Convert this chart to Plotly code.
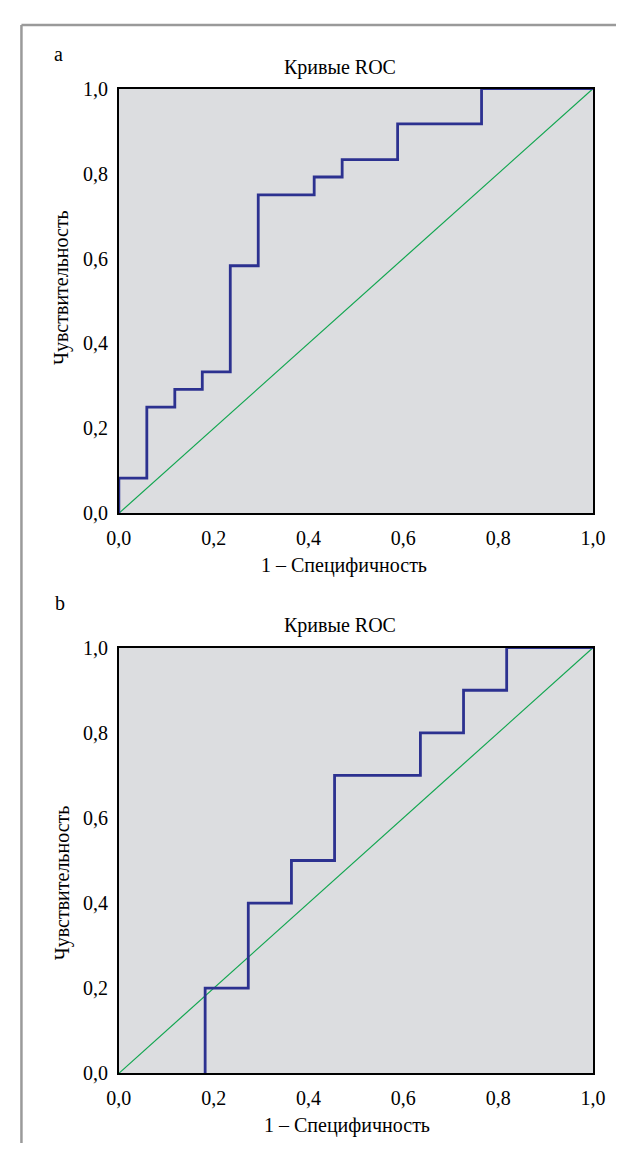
import plotly.graph_objects as go

# Panel a: ROC curve (1 - specificity, sensitivity)
fpr_a = [0.0, 0.0, 0.059, 0.118, 0.176, 0.235, 0.294, 0.412, 0.471, 0.588, 0.765, 1.0]
tpr_a = [0.0, 0.083, 0.25, 0.292, 0.333, 0.583, 0.75, 0.792, 0.833, 0.917, 1.0, 1.0]

# Panel b
fpr_b = [0.182, 0.182, 0.273, 0.364, 0.455, 0.636, 0.727, 0.818, 1.0]
tpr_b = [0.0, 0.2, 0.4, 0.5, 0.7, 0.8, 0.9, 1.0, 1.0]

ref_line = [0.0, 1.0]
tick_vals = [0.0, 0.2, 0.4, 0.6, 0.8, 1.0]
tick_text = ["0,0", "0,2", "0,4", "0,6", "0,8", "1,0"]
panel_labels = ["a", "b"]
title_text = "Кривые ROC"
x_title = "1 – Специфичность"
y_title = "Чувствительность"

OFF = 8  # browser body margin
W, H = 637 - 2 * OFF, 1162 - 2 * OFF
FONT = "Liberation Serif, serif"
BLUE = "#2c3190"
GREEN = "#12a650"
BG = "#dcdde0"
FS = 20

def px_x(p):
    return (p - OFF) / W

def px_y(p):
    return 1 - (p - OFF) / H

fig = go.Figure()

fig.add_trace(go.Scatter(x=ref_line, y=ref_line, mode="lines", line=dict(color=GREEN, width=1.2),
                         xaxis="x", yaxis="y", showlegend=False, hoverinfo="skip"))
fig.add_trace(go.Scatter(x=fpr_a, y=tpr_a, mode="lines", line=dict(color=BLUE, width=2.8, shape="hv"),
                         xaxis="x", yaxis="y", showlegend=False))
fig.add_trace(go.Scatter(x=ref_line, y=ref_line, mode="lines", line=dict(color=GREEN, width=1.2),
                         xaxis="x2", yaxis="y2", showlegend=False, hoverinfo="skip"))
fig.add_trace(go.Scatter(x=fpr_b, y=tpr_b, mode="lines", line=dict(color=BLUE, width=2.8, shape="hv"),
                         xaxis="x2", yaxis="y2", showlegend=False))

axis_common = dict(
    range=[0, 1], tickvals=tick_vals, ticktext=tick_text, showgrid=False, zeroline=False,
    showline=True, linecolor="black", linewidth=1.5, mirror=True, ticks="",
    tickfont=dict(family=FONT, size=FS, color="black"), fixedrange=True,
)
xaxis_extra = dict(ticklabelstandoff=6)
yaxis_extra = dict(ticklabelstandoff=5)

xdom = [px_x(111), px_x(605)]
ya = [px_y(512), px_y(79)]
yb = [px_y(1083), px_y(649)]

fig.update_layout(
    width=W, height=H,
    margin=dict(l=0, r=0, t=0, b=0),
    paper_bgcolor="white", plot_bgcolor=BG,
    font=dict(family=FONT, color="black"),
    xaxis=dict(domain=xdom, anchor="y", **axis_common, **xaxis_extra),
    yaxis=dict(domain=ya, anchor="x", **axis_common, **yaxis_extra),
    xaxis2=dict(domain=xdom, anchor="y2", **axis_common, **xaxis_extra),
    yaxis2=dict(domain=yb, anchor="x2", **axis_common, **yaxis_extra),
)

# outer frame: only left and top edges are visible in the picture
frame_col = "#9a9a9a"
shapes = [
    dict(type="line", xref="paper", yref="paper", x0=px_x(9.5), x1=px_x(9.5), y0=0, y1=px_y(14),
         line=dict(color=frame_col, width=2.5), layer="below"),
    dict(type="line", xref="paper", yref="paper", x0=px_x(9.5), x1=1, y0=px_y(14), y1=px_y(14),
         line=dict(color=frame_col, width=2.5), layer="below"),
]
fig.update_layout(shapes=shapes)

panels = [
    dict(lab=panel_labels[0], lab_xy=(48, 44), title_y=57, xt=(346, 565), yt=(51, 282)),
    dict(lab=panel_labels[1], lab_xy=(50, 603), title_y=626, xt=(349, 1136), yt=(52, 889)),
]
annotations = []
for p in panels:
    annotations.append(dict(text=p["lab"], x=px_x(p["lab_xy"][0]), y=px_y(p["lab_xy"][1]), xref="paper",
                            yref="paper", showarrow=False, font=dict(family=FONT, size=FS),
                            xanchor="center", yanchor="middle"))
    annotations.append(dict(text=title_text, x=px_x(341), y=px_y(p["title_y"]), xref="paper", yref="paper",
                            showarrow=False, font=dict(family=FONT, size=FS), xanchor="center", yanchor="middle"))
    annotations.append(dict(text=x_title, x=px_x(p["xt"][0]), y=px_y(p["xt"][1]), xref="paper", yref="paper",
                            showarrow=False, font=dict(family=FONT, size=FS), xanchor="center", yanchor="middle"))
    annotations.append(dict(text=y_title, x=px_x(p["yt"][0]), y=px_y(p["yt"][1]), xref="paper", yref="paper",
                            showarrow=False, textangle=-90, font=dict(family=FONT, size=FS),
                            xanchor="center", yanchor="middle"))
fig.update_layout(annotations=annotations)

fig.write_html("out.html")
